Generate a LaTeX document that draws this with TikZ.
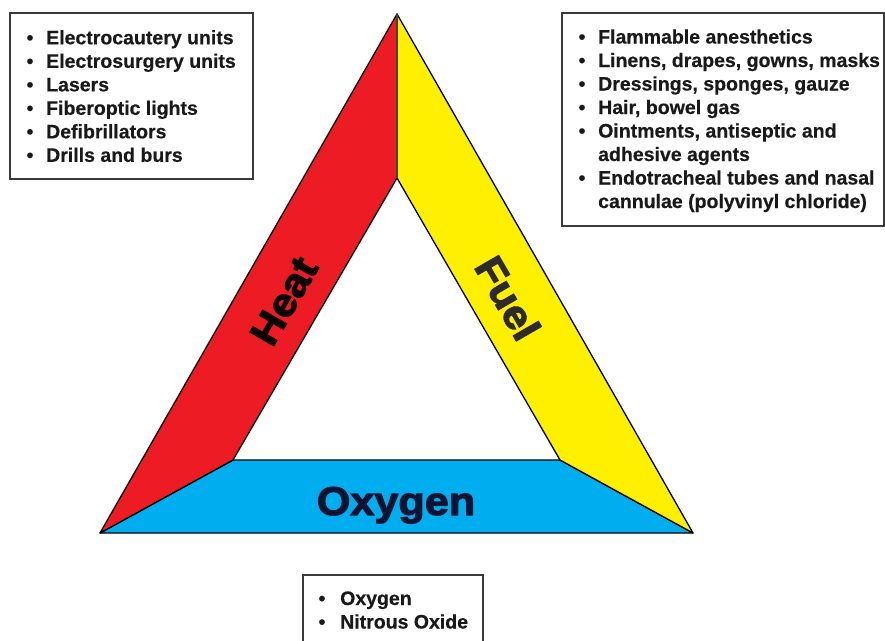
\documentclass[tikz,border=0pt]{standalone}
\usepackage{fontspec}
\setmainfont{Liberation Sans}[BoldFeatures={FakeBold=0.4}]
\newfontfamily\heavyfont{Liberation Sans}[BoldFeatures={FakeBold=3,FakeStretch=1.08}]
\definecolor{heatred}{HTML}{ED1C24}
\definecolor{fuelyel}{HTML}{FFF000}
\definecolor{oxyblue}{HTML}{00AEEF}
\definecolor{oxytext}{HTML}{0B1533}
\definecolor{boxline}{HTML}{3A3A3A}
\tikzset{
  band/.style={draw=black, line width=1.3pt, line join=round},
  listbox/.style={draw=boxline, line width=1.4pt},
  listtext/.style={anchor=base west, inner sep=0pt, font=\bfseries\fontsize{19.5}{23}\selectfont, text=black!90},
  bulletmark/.style={anchor=base, inner sep=0pt, font=\bfseries\fontsize{19.5}{23}\selectfont, text=black!90},
  biglabel/.style={inner sep=0pt, font=\heavyfont\bfseries\fontsize{40}{40}\selectfont}
}
\begin{document}
\begin{tikzpicture}[x=1pt,y=-1pt]
\useasboundingbox (0,0) rectangle (885,640);
% triangle corners
\coordinate (A) at (397,14);
\coordinate (BL) at (100,533);
\coordinate (BR) at (693,533);
\coordinate (IA) at (397,178);
\coordinate (IL) at (233,460);
\coordinate (IR) at (560,460);
\filldraw[band, fill=oxyblue] (BL) -- (BR) -- (IR) -- (IL) -- cycle;
\filldraw[band, fill=heatred] (A) -- (BL) -- (IL) -- (IA) -- cycle;
\filldraw[band, fill=fuelyel] (A) -- (IA) -- (IR) -- (BR) -- cycle;
\draw[line width=1.8pt, draw=black!75] (A) -- (IA);
% labels
\node[biglabel, rotate=60, text=black!95!red] (heat) at (284,301) {Heat};
\node[biglabel, rotate=-60, text=black!95!yellow] (fuel) at (508,298) {Fuel};
\node[biglabel, anchor=base, text=oxytext] (oxy) at (396,515) {Oxygen};
% left box
\draw[listbox] (10,13) rectangle (253,179);
\foreach \t [count=\i] in {Electrocautery units, Electrosurgery units, Lasers, Fiberoptic lights, Defibrillators, Drills and burs}{
  \node[listtext] (h\i) at (46,{44.3+23.5*(\i-1)}) {\t};
  \node[bulletmark] (hb\i) at (30,{44.3+23.5*(\i-1)}) {\textbullet};
}
% right box
\draw[listbox] (562,13) rectangle (884,226);
\foreach \t [count=\i] in {Flammable anesthetics, {Linens, drapes, gowns, masks}, {Dressings, sponges, gauze}, {Hair, bowel gas}, {Ointments, antiseptic and}, adhesive agents, Endotracheal tubes and nasal, cannulae (polyvinyl chloride)}{
  \node[listtext] (f\i) at (598,{43.5+23.5*(\i-1)}) {\t};
}
\foreach \i in {1,2,3,4,5,7}{
  \node[bulletmark] (fb\i) at (582,{43.5+23.5*(\i-1)}) {\textbullet};
}
% bottom box
\draw[listbox] (303,642) -- (303,575) -- (483,575) -- (483,642);
\node[listtext] (o1) at (340,605) {Oxygen};
\node[listtext] (o2) at (340,628.5) {Nitrous Oxide};
\node[bulletmark] (ob1) at (322,605) {\textbullet};
\node[bulletmark] (ob2) at (322,628.5) {\textbullet};
\end{tikzpicture}
\end{document}
